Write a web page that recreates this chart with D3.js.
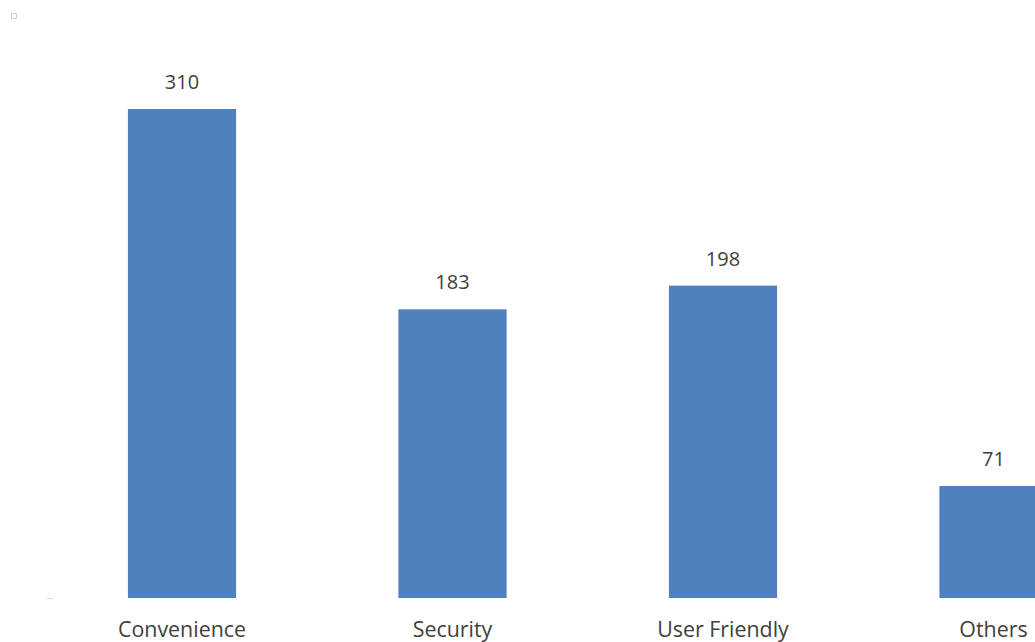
<!DOCTYPE html>
<html>
<head>
<meta charset="utf-8">
<script src="https://cdn.jsdelivr.net/npm/d3@7/dist/d3.min.js"></script>
<style>
  html, body { margin: 0; padding: 0; background: #fff; overflow: hidden; }
  svg { display: block; }
  text { font-family: "Open Sans", Lato, "Liberation Sans", sans-serif; fill: #404040; }
</style>
</head>
<body>
<svg id="chart" width="1035" height="642"></svg>
<script>
// Reasons respondents gave for their preference
const categories = ["Convenience", "Security", "User Friendly", "Others"];
const values = [310, 183, 198, 71];

const width = 1035, height = 642;
const svg = d3.select("#chart");

const baseline = 598;
const x = d3.scaleBand()
  .domain(categories)
  .range([46.75, 46.75 + 270.5 * categories.length])
  .paddingInner(0.6)
  .paddingOuter(0.3);

const y = d3.scaleLinear()
  .domain([0, 310])
  .range([baseline, 109]);

// small marker in the top-left corner
svg.append("rect")
  .attr("x", 11.5).attr("y", 13.5)
  .attr("width", 5).attr("height", 5)
  .attr("fill", "none")
  .attr("stroke", "#d0d0d0")
  .attr("stroke-width", 1);

// bars
svg.append("g").selectAll("rect")
  .data(values)
  .join("rect")
  .attr("x", (d, i) => x(categories[i]))
  .attr("y", d => y(d))
  .attr("width", x.bandwidth())
  .attr("height", d => baseline - y(d))
  .attr("fill", "#4f81bd");

// value labels
svg.append("g").selectAll("text")
  .data(values)
  .join("text")
  .attr("x", (d, i) => x(categories[i]) + x.bandwidth() / 2)
  .attr("y", d => y(d) - 20)
  .attr("text-anchor", "middle")
  .attr("font-size", 20)
  .text(d => d);

// category axis
const axis = d3.axisBottom(x).tickSize(0).tickPadding(0);
const gAxis = svg.append("g")
  .attr("transform", `translate(0,${baseline})`)
  .call(axis);
gAxis.select(".domain").remove();
gAxis.selectAll("text")
  .attr("dy", null)
  .attr("y", 39)
  .attr("font-size", 21.4)
  .style("font-family", "'Open Sans', Lato, 'Liberation Sans', sans-serif")
  .attr("fill", "#595959");

// short axis stub at the left end of the baseline
svg.append("line")
  .attr("x1", 47).attr("x2", 53)
  .attr("y1", baseline + 0.5).attr("y2", baseline + 0.5)
  .attr("stroke", "#d9d9d9")
  .attr("stroke-width", 1);
</script>
</body>
</html>
